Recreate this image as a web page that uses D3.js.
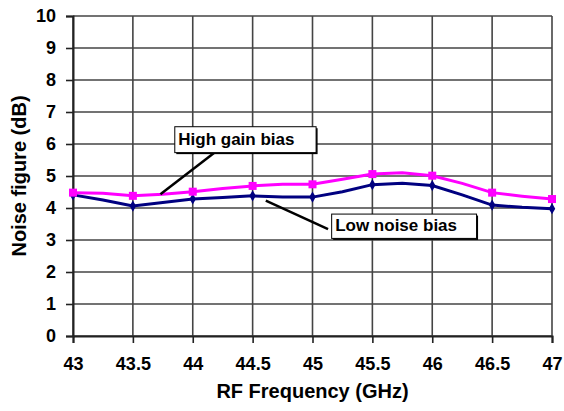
<!DOCTYPE html>
<html>
<head>
<meta charset="utf-8">
<script src="https://cdn.jsdelivr.net/npm/d3@7"></script>
<style>
  body { margin: 0; background: #fff; }
  text { font-family: "Liberation Sans", Arial, sans-serif; font-weight: bold; fill: #000; }
</style>
</head>
<body>
<svg width="564" height="411"></svg>
<script>
// RF frequency points (GHz), marker every 0.5 GHz
var freqs = [43, 43.25, 43.5, 43.75, 44, 44.25, 44.5, 44.75, 45,
             45.25, 45.5, 45.75, 46, 46.25, 46.5, 46.75, 47];
var highGain = [4.48, 4.46, 4.38, 4.43, 4.51, 4.61, 4.69, 4.74, 4.74,
                4.90, 5.06, 5.10, 5.01, 4.77, 4.48, 4.37, 4.28];
var lowNoise = [4.41, 4.25, 4.06, 4.17, 4.28, 4.33, 4.38, 4.34, 4.34,
                4.51, 4.73, 4.77, 4.70, 4.41, 4.09, 4.02, 3.98];
var xTicks = [43, 43.5, 44, 44.5, 45, 45.5, 46, 46.5, 47];
var yTicks = [0, 1, 2, 3, 4, 5, 6, 7, 8, 9, 10];
var labels = [
  {text: 'High gain bias', box: [43.85, 6.54, 45.03, 5.73], from: [44.18, 5.73], to: [43.73, 4.43]},
  {text: 'Low noise bias', box: [45.16, 3.81, 46.37, 3.05], from: [45.13, 3.34], to: [44.61, 4.23]}
];

var margin = {top: 16, right: 12, bottom: 75, left: 73},
    width = 564 - margin.left - margin.right,
    height = 411 - margin.top - margin.bottom;

var svg = d3.select('svg');
var g = svg.append('g').attr('transform', 'translate(' + margin.left + ',' + margin.top + ')');

var x = d3.scaleLinear().domain([43, 47]).range([0, width]);
var y = d3.scaleLinear().domain([0, 10]).range([height, 0]);

// grid
g.selectAll('.hgrid').data(yTicks).enter().append('line')
  .attr('x1', 0).attr('x2', width)
  .attr('y1', function(d) { return y(d); }).attr('y2', function(d) { return y(d); })
  .attr('stroke', '#444').attr('stroke-width', 1.6);
g.selectAll('.vgrid').data(xTicks).enter().append('line')
  .attr('y1', 0).attr('y2', height)
  .attr('x1', function(d) { return x(d); }).attr('x2', function(d) { return x(d); })
  .attr('stroke', '#444').attr('stroke-width', 1.6);

// axes
var xAxis = g.append('g').attr('transform', 'translate(0,' + height + ')')
  .call(d3.axisBottom(x).tickValues(xTicks).tickSize(7).tickPadding(14).tickFormat(d3.format('')));
var yAxis = g.append('g')
  .call(d3.axisLeft(y).tickValues(yTicks).tickSize(7).tickPadding(10));
[xAxis, yAxis].forEach(function(a) {
  a.select('.domain').attr('stroke', '#222').attr('stroke-width', 2);
  a.selectAll('.tick line').attr('stroke', '#222').attr('stroke-width', 1.6);
  a.selectAll('text').attr('font-size', '18px').attr('font-family', '"Liberation Sans", Arial, sans-serif')
    .attr('font-weight', 'bold').attr('fill', '#000');
});

// series
var line = d3.line()
  .x(function(d) { return x(d[0]); })
  .y(function(d) { return y(d[1]); });
var pink = freqs.map(function(f, i) { return [f, highGain[i]]; });
var navy = freqs.map(function(f, i) { return [f, lowNoise[i]]; });

g.append('path').datum(navy).attr('d', line)
  .attr('fill', 'none').attr('stroke', '#000080').attr('stroke-width', 3);
g.append('path').datum(pink).attr('d', line)
  .attr('fill', 'none').attr('stroke', '#ff00ff').attr('stroke-width', 3);

g.selectAll('.dmark').data(navy.filter(function(d, i) { return i % 2 === 0; })).enter()
  .append('path')
  .attr('transform', function(d) { return 'translate(' + x(d[0]) + ',' + y(d[1]) + ')'; })
  .attr('d', d3.symbol().type(d3.symbolDiamond).size(36))
  .attr('fill', '#000080');
g.selectAll('.smark').data(pink.filter(function(d, i) { return i % 2 === 0; })).enter()
  .append('rect')
  .attr('x', function(d) { return x(d[0]) - 4; })
  .attr('y', function(d) { return y(d[1]) - 4; })
  .attr('width', 8).attr('height', 8)
  .attr('fill', '#ff00ff');

// callouts
labels.forEach(function(l) {
  g.append('line')
    .attr('x1', x(l.from[0])).attr('y1', y(l.from[1]))
    .attr('x2', x(l.to[0])).attr('y2', y(l.to[1]))
    .attr('stroke', '#000').attr('stroke-width', 2.5);
  var bx = x(l.box[0]), by = y(l.box[1]),
      bw = x(l.box[2]) - bx, bh = y(l.box[3]) - by;
  g.append('rect').attr('x', bx + 1.5).attr('y', by + 1.5).attr('width', bw).attr('height', bh)
    .attr('fill', '#000');
  g.append('rect').attr('x', bx).attr('y', by).attr('width', bw).attr('height', bh)
    .attr('fill', '#fff').attr('stroke', '#000').attr('stroke-width', 1);
  g.append('text').attr('x', bx + 3.5).attr('y', by + bh - 7.5)
    .attr('font-size', '17px').text(l.text);
});

// axis titles
svg.append('text')
  .attr('x', margin.left + width / 2).attr('y', 398)
  .attr('text-anchor', 'middle').attr('font-size', '20px')
  .text('RF Frequency (GHz)');
svg.append('text')
  .attr('transform', 'translate(26,' + (margin.top + height / 2) + ') rotate(-90)')
  .attr('text-anchor', 'middle').attr('font-size', '20px')
  .text('Noise figure (dB)');
</script>
</body>
</html>
